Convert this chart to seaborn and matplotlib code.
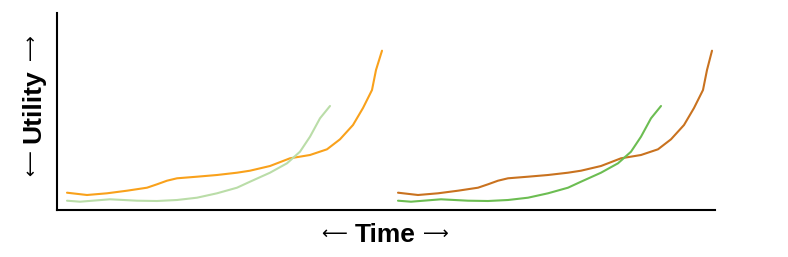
import matplotlib
matplotlib.use("Agg")
import matplotlib.pyplot as plt
import seaborn as sns
import pandas as pd

sns.set_theme(style="white")
plt.rcParams['font.family'] = ['Liberation Sans', 'DejaVu Sans']

# Data (time units, utility units)
left_orange_x = [10, 30, 50, 70, 90, 100, 110, 120, 140, 160, 180, 193, 213, 233, 253, 270, 283, 296, 306, 315, 319, 325]
left_orange_y = [17.3, 15, 16.7, 19.3, 22.3, 25.7, 29.3, 31.7, 33.3, 35, 37.3, 39.3, 44, 51.7, 55, 60.7, 70.7, 85, 102, 120, 140, 159.3]
left_green_x = [10, 23, 53, 80, 100, 120, 140, 160, 180, 193, 213, 230, 243, 253, 263, 273]
left_green_y = [9.3, 8.3, 10.7, 9.3, 9, 10, 12.3, 16.7, 22.3, 28.3, 37.3, 46.7, 58.3, 73.3, 91.7, 104]
right_orange_x = [341, 361, 381, 401, 421, 431, 441, 451, 471, 491, 511, 524, 544, 564, 584, 601, 614, 627, 637, 646, 650, 655]
right_orange_y = [17.3, 15, 16.7, 19.3, 22.3, 25.7, 29.3, 31.7, 33.3, 35, 37.3, 39.3, 44, 51.7, 55, 60.7, 70.7, 85, 102, 120, 140, 159.3]
right_green_x = [341, 354, 384, 411, 431, 451, 471, 491, 511, 524, 544, 561, 574, 584, 594, 604]
right_green_y = [9.3, 8.3, 10.7, 9.3, 9, 10, 12.3, 16.7, 22.3, 28.3, 37.3, 46.7, 58.3, 73.3, 91.7, 104]

series = [
    (left_orange_x, left_orange_y, "#F9A11B"),
    (left_green_x, left_green_y, "#BADDA8"),
    (right_orange_x, right_orange_y, "#C9721F"),
    (right_green_x, right_green_y, "#6CBD52"),
]

W, H = 788, 257
fig = plt.figure(figsize=(W / 100, H / 100), dpi=100)
ax = fig.add_axes([57 / W, 1 - 210 / H, (715 - 57) / W, (210 - 13) / H])

for xs, ys, c in series:
    df = pd.DataFrame({"t": xs, "u": ys})
    sns.lineplot(data=df, x="t", y="u", ax=ax, color=c, linewidth=1.5,
                 sort=False, estimator=None)

ax.set_xlim(0, 658)
ax.set_ylim(0, 197)
ax.set_xticks([])
ax.set_yticks([])
ax.set_xlabel("")
ax.set_ylabel("")
for s in ["top", "right"]:
    ax.spines[s].set_visible(False)
for s in ["left", "bottom"]:
    ax.spines[s].set_color("black")
    ax.spines[s].set_linewidth(1.5)

lab = dict(color="black", fontsize=19, fontweight="bold", family=["Liberation Sans", "DejaVu Sans"])
arr = dict(color="black", fontsize=13, fontweight="normal", family=["DejaVu Sans"])

# x label: "← Time →"
fig.text(385 / W, 1 - 242 / H, "Time", ha="center", va="baseline", **lab)
fig.text(334.5 / W, 1 - 234 / H, "\u27f5", ha="center", va="center", **arr)
fig.text(436 / W, 1 - 234 / H, "\u27f6", ha="center", va="center", **arr)

# y label: "← Utility →" rotated
fig.text(40 / W, 1 - 106 / H, "Utility", ha="center", va="baseline",
         rotation=90, rotation_mode="anchor", **lab)
fig.text(31 / W, 1 - 47.5 / H, "\u27f6", ha="center", va="center", rotation=90, **arr)
fig.text(31 / W, 1 - 163.5 / H, "\u27f5", ha="center", va="center", rotation=90, **arr)

fig.savefig("out.png", dpi=100, facecolor="white")
